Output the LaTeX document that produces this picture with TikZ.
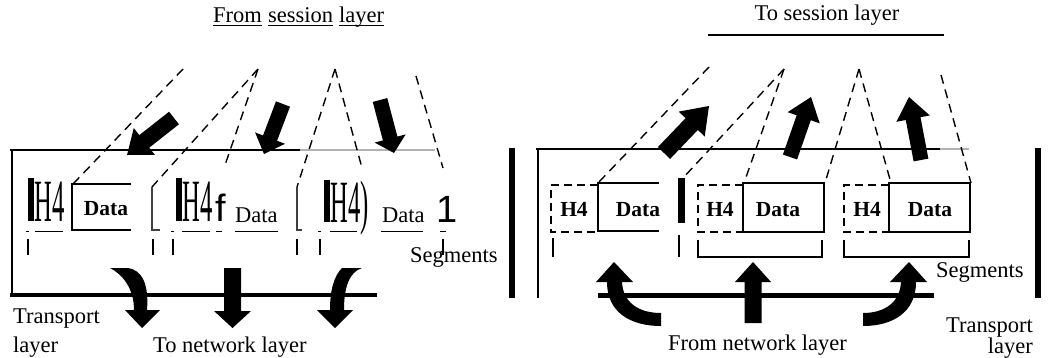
\documentclass[tikz,border=0pt]{standalone}
\usepackage{fontspec}
\setmainfont{Liberation Serif}
\setsansfont{Liberation Sans}
\usetikzlibrary{calc}
\newcommand\blockarr[5]{%
  \coordinate (#1-#2-h) at ($(#2)!#5!(#1)$);
  \fill ($(#1)!#3!90:(#2)$) -- ($(#1-#2-h)!#3!-90:(#1)$) -- ($(#1-#2-h)!#4!-90:(#1)$) -- (#2) -- ($(#1-#2-h)!#4!90:(#1)$) -- ($(#1-#2-h)!#3!90:(#1)$) -- ($(#1)!#3!-90:(#2)$) -- cycle;}
\begin{document}
\begin{tikzpicture}[x=1pt,y=-1pt,
  lbl/.style={inner sep=0pt, font=\fontsize{22.5}{27}\selectfont},
  boxtxt/.style={inner sep=0pt, font=\bfseries\fontsize{21.5}{25}\selectfont},
  big/.style={inner sep=0pt, font=\fontsize{60}{60}\selectfont},
  sansbig/.style={inner sep=0pt, font=\sffamily\fontsize{38}{38}\selectfont},
  dsh/.style={line width=1.4pt, dash pattern=on 9pt off 6pt},
  hdsh/.style={line width=1.7pt, dash pattern=on 8pt off 5pt},
  solidbox/.style={line width=1.4pt},
  thinl/.style={line width=1pt},
  tick/.style={line width=1.5pt},
  fade/.style={line width=1.2pt, black!30}]

\useasboundingbox (0,0) rectangle (1052,357);

% ---------- titles ----------
\node[lbl,anchor=base west] (tfrom) at (213,22) {From};
\node[lbl,anchor=base west] (tsess) at (268,22) {session};
\node[lbl,anchor=base west] (tlay) at (339,22) {layer};
\foreach \w in {tfrom,tsess,tlay}
  \draw[thinl] ([yshift=-3.5pt]\w.base west) -- ([yshift=-3.5pt]\w.base east);
\node[lbl,anchor=base] (tto) at (827,20) {To session layer};
\coordinate (tl1) at (708,35); \coordinate (tl2) at (944,35);
\draw[line width=1.2pt] (tl1) -- (tl2);

% ---------- left panel frame ----------
\coordinate (LT0) at (10,150); \coordinate (LT1) at (117,150);
\coordinate (LT2) at (300,150); \coordinate (LT3) at (435,150);
\draw[line width=1.5pt] (LT0) -- (LT1);
\draw[line width=2.5pt] (LT1) -- (LT2);
\draw[fade] (LT2) -- (LT3);
\draw[line width=1.5pt] (12,150) -- (12,297);
\draw[line width=4.5pt] (10,295) -- (377,295);
\fill (508.5,148) rectangle (514.5,298);

% dashed fan lines (left)
\coordinate (a1) at (183,69); \coordinate (a2) at (258,69);
\coordinate (a3) at (335,69); \coordinate (a4) at (416,76);
\draw[dsh] (a1) -- (73,184);
\draw[dsh] (a2) -- (152,187);
\draw[dsh] (a2) -- (224,168);
\draw[dsh] (a3) -- (297,187);
\draw[dsh] (a3) -- (362,168);
\draw[dsh] (a4) -- (443,168);

% segment 1 (left)
\fill (28,178) rectangle (34,221);
\node[big, anchor=base west] (lh1) at (34.5,221) {\scalebox{0.41}[1]{H4}};
\draw[solidbox] (131,184) -- (72,184) -- (72,230) -- (131,230);
\node[boxtxt, anchor=base] (ld1) at (106,215) {Data};
\draw[thinl] (26,231) -- (29,231);
\draw[thinl] (35,231) -- (63,231);
% segment 2 (left)
\draw[line width=1.2pt, black!75] (152,187) -- (152,230) -- (160,230);
\fill (176,178) rectangle (182,221);
\node[big, anchor=base west] (lh2) at (182.5,221) {\scalebox{0.41}[1]{H4}};
\node[sansbig, anchor=base west] (lf) at (215,221) {f};
\node[lbl, anchor=base west] (ld2) at (235,222) {Data};
\draw[thinl] (171,231) -- (174,231);
\draw[thinl] (182,231) -- (210,231);
\draw[thinl] (216,231) -- (222,231);
\draw[thinl] (235,231) -- (278,231);
% segment 3 (left)
\draw[line width=1.2pt, black!75] (297,187) -- (297,230) -- (302,230);
\fill (324,180) rectangle (330,222);
\node[big, anchor=base west] (lh3) at (330.5,222) {\scalebox{0.41}[1]{H4)}};
\node[lbl, anchor=base west] (ld3) at (382,222) {Data};
\node[sansbig, anchor=base west] (lone) at (436,222) {1};
\draw[thinl] (318,231) -- (321,231);
\draw[thinl] (330,231) -- (357,231);
\draw[thinl] (381,231) -- (423,231);
\draw[thinl] (440,231) -- (446,231);
\foreach \x in {28,153,173,297,320,443}
  \draw[tick] (\x,239) -- (\x,255);

\node[lbl, anchor=base west] (lseg) at (410,262) {Segments};
\node[lbl, anchor=base west] (ltr) at (13,323) {Transport};
\node[lbl, anchor=base west] (lly) at (13,352) {layer};
\node[lbl, anchor=base west] (lnet) at (153,352) {To network layer};

% arrows from session layer (left)
\coordinate (la1t) at (174,118); \coordinate (la1p) at (127,155);
\blockarr{la1t}{la1p}{8pt}{17pt}{22pt}
\coordinate (la2t) at (283,104); \coordinate (la2p) at (264,154);
\blockarr{la2t}{la2p}{7.5pt}{16pt}{17pt}
\coordinate (la3t) at (380,100); \coordinate (la3p) at (394,153);
\blockarr{la3t}{la3p}{7.5pt}{16pt}{15pt}

% arrows to network layer (left)
\fill (110,268) .. controls (122,274) and (134,288) .. (134,310) -- (125,310) -- (142,328) -- (160,310) -- (147,310)
  .. controls (149,284) and (142,270) .. (128,268) -- cycle;
\coordinate (lb2t) at (232.5,268); \coordinate (lb2p) at (232.5,328);
\blockarr{lb2t}{lb2p}{8.5pt}{18.5pt}{17pt}
\fill (362,268) .. controls (349,272) and (344,288) .. (344,310) -- (353,310) -- (335,328) -- (317,310) -- (330,310)
  .. controls (330,290) and (334,276) .. (342,268) -- cycle;

% ---------- right panel frame ----------
\draw[line width=1.8pt] (536,149) -- (940,149);
\draw[fade] (940,149) -- (969,149);
\draw[line width=1.5pt] (538,149) -- (538,298);
\fill (1035,148) rectangle (1041,298);
\draw[line width=5pt] (598,295) -- (934,295);

% dashed fan lines (right)
\coordinate (b1) at (709,67); \coordinate (b2) at (784,69);
\coordinate (b3) at (859,69); \coordinate (b4) at (941,75);
\draw[dsh] (b1) -- (598,183);
\draw[dsh] (b2) -- (683,178);
\draw[dsh] (b2) -- (744,183);
\draw[dsh] (b3) -- (825,183);
\draw[dsh] (b3) -- (891,183);
\draw[dsh] (b4) -- (971,183);

% segment 1 (right)
\draw[hdsh] (598,185) -- (551,185) -- (551,232) -- (598,232);
\draw[solidbox] (659,183) -- (598,183) -- (598,231) -- (659,231);
\node[boxtxt, anchor=base] (rh1) at (574,216) {H4};
\node[boxtxt, anchor=base] (rd1) at (638,216) {Data};
\fill (678,178) rectangle (685,223);
\draw[tick] (553,238) -- (553,257);
\draw[tick] (679,235) -- (679,257);
% segment 2 (right)
\draw[hdsh] (743,185) -- (698,185) -- (698,232) -- (743,232);
\draw[solidbox] (743,183) rectangle (824,232);
\node[boxtxt, anchor=base] (rh2) at (720,216) {H4};
\node[boxtxt, anchor=base] (rd2) at (778,216) {Data};
\draw[solidbox] (698,240) -- (698,257) -- (822,257) -- (822,240);
% segment 3 (right)
\draw[hdsh] (889,185) -- (844,185) -- (844,232) -- (889,232);
\draw[solidbox] (889,183) rectangle (970,232);
\node[boxtxt, anchor=base] (rh3) at (867,216) {H4};
\node[boxtxt, anchor=base] (rd3) at (930,216) {Data};
\draw[solidbox] (844,240) -- (844,257) -- (969,257) -- (969,240);

\node[lbl, anchor=base west] (rseg) at (936,277) {Segments};
\node[lbl, anchor=base east] (rtr) at (1033,332) {Transport};
\node[lbl, anchor=base east] (rly) at (1033,353) {layer};
\node[lbl, anchor=base west] (rnet) at (668,350) {From network layer};

% arrows to session layer (right)
\coordinate (ra1t) at (664,153); \coordinate (ra1p) at (709,106);
\blockarr{ra1t}{ra1p}{8.5pt}{18pt}{25pt}
\coordinate (ra2t) at (790,157); \coordinate (ra2p) at (811,97);
\blockarr{ra2t}{ra2p}{7.5pt}{17pt}{22pt}
\coordinate (ra3t) at (921,160); \coordinate (ra3p) at (909,97);
\blockarr{ra3t}{ra3p}{7.5pt}{17pt}{22pt}

% arrows from network layer (right)
\fill (614,262) -- (633,282) -- (622,282) .. controls (623,302) and (638,313) .. (661,313) -- (661,326)
  .. controls (630,326) and (607,312) .. (607,282) -- (596,282) -- cycle;
\coordinate (rb2t) at (753,323); \coordinate (rb2p) at (753,262);
\blockarr{rb2t}{rb2p}{8.5pt}{18pt}{20pt}
\fill (909,262) -- (890,282) -- (901,282) .. controls (900,302) and (885,313) .. (863,313) -- (863,326)
  .. controls (893,326) and (916,312) .. (916,282) -- (927,282) -- cycle;
\end{tikzpicture}
\end{document}
